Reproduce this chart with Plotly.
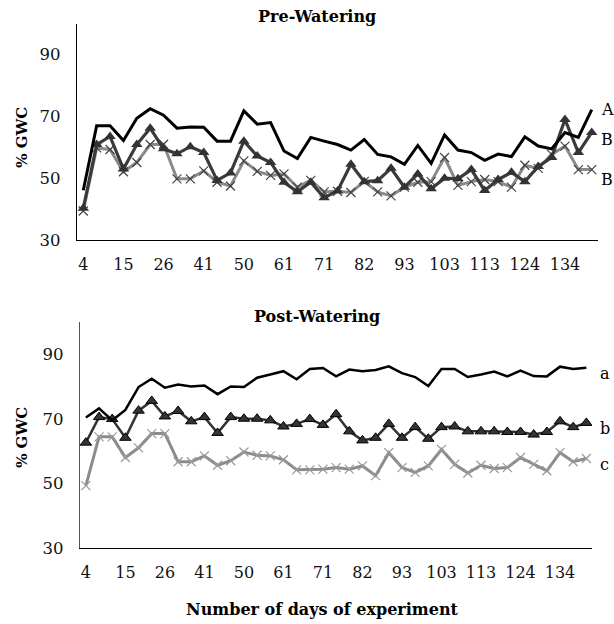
import plotly.graph_objects as go

# ---- data ----
days = [4, 8, 11, 15, 19, 22, 26, 31, 36, 41, 44, 47, 50, 54, 57, 61, 64, 68, 71,
        75, 78, 82, 86, 89, 93, 96, 99, 103, 106, 110, 113, 117, 120, 124, 127,
        131, 134, 138, 141]
categories = [str(d) for d in days]
tick_labels = categories[::3]

pre_A = [46.1, 67.0, 67.0, 62.2, 69.4, 72.5, 70.4, 66.2, 66.6, 66.5, 62.0, 62.0, 71.8,
         67.5, 68.0, 58.8, 56.4, 63.2, 62.0, 60.9, 59.1, 62.5, 57.7, 56.9, 54.5, 60.6,
         54.8, 64.0, 59.1, 58.3, 55.8, 57.8, 57.0, 63.4, 60.4, 59.5, 64.8, 63.2, 72.2]
pre_B1 = [40.3, 60.9, 63.5, 53.0, 60.9, 66.2, 59.5, 57.9, 60.2, 58.3, 49.3, 51.7, 62.0,
          57.2, 55.1, 48.7, 45.6, 48.7, 43.7, 45.9, 54.5, 48.9, 49.2, 53.2, 47.1, 51.4,
          46.6, 50.0, 49.8, 52.8, 46.0, 49.6, 51.9, 48.9, 53.8, 56.7, 69.0, 58.3, 64.8]
pre_B2 = [39.4, 59.8, 59.3, 52.1, 55.1, 60.9, 61.0, 49.8, 49.8, 52.4, 48.7, 47.5, 55.6,
          52.2, 50.9, 51.4, 47.1, 49.3, 45.6, 45.8, 45.4, 49.0, 45.6, 44.3, 47.1, 48.7,
          48.9, 56.7, 47.7, 48.9, 49.6, 48.9, 47.1, 54.2, 53.2, 57.7, 60.4, 52.8, 52.8]

post_a = [70.4, 73.2, 69.5, 72.7, 79.8, 82.4, 79.6, 80.6, 80.0, 80.3, 77.6, 80.0, 79.8,
          82.7, 83.7, 84.7, 82.2, 85.4, 85.7, 83.1, 85.2, 84.7, 85.1, 86.2, 84.1, 82.9,
          80.1, 85.4, 85.4, 82.9, 83.7, 84.6, 83.1, 84.9, 83.2, 83.1, 86.1, 85.4, 85.8]
post_b = [62.6, 70.5, 69.9, 64.1, 72.5, 75.5, 70.7, 72.4, 69.2, 70.5, 65.6, 70.5, 70.0,
          70.0, 69.5, 67.6, 68.4, 69.9, 68.1, 71.4, 66.1, 63.3, 64.1, 68.4, 64.1, 67.4,
          63.8, 67.4, 67.6, 66.1, 66.1, 66.1, 65.9, 65.9, 65.1, 65.9, 69.2, 67.4, 68.7]
post_c = [49.3, 64.4, 64.4, 58.0, 61.0, 65.4, 65.4, 56.7, 56.7, 58.5, 55.6, 57.0, 59.7,
          58.7, 58.5, 57.3, 54.2, 54.2, 54.4, 54.9, 54.4, 55.4, 52.4, 59.5, 54.9, 53.4,
          55.4, 60.5, 55.9, 53.2, 55.6, 54.6, 54.9, 58.0, 55.9, 53.9, 59.5, 56.7, 57.7]

pre_labels = ["A", "B", "B"]
post_labels = ["a", "b", "c"]
y_ticks = [30, 50, 70, 90]

SERIF = "DejaVu Serif"
fig = go.Figure()

def add(x, y, xa, ya, color, width, marker=None):
    kw = dict(x=x, y=y, xaxis=xa, yaxis=ya, line=dict(color=color, width=width),
              showlegend=False, hoverinfo="skip")
    if marker is None:
        kw["mode"] = "lines"
    else:
        kw["mode"] = "lines+markers"
        kw["marker"] = marker
    fig.add_trace(go.Scatter(**kw))

# Pre-watering
add(categories, pre_B2, "x", "y", "#8a8a8a", 3,
    dict(symbol="x-thin", size=9, line=dict(color="#444444", width=1.2)))
add(categories, pre_B1, "x", "y", "#3a3a3a", 3.2,
    dict(symbol="triangle-up", size=10, color="#333333"))
add(categories, pre_A, "x", "y", "#000000", 3)

# Post-watering
add(categories, post_c, "x2", "y2", "#8c8c8c", 3,
    dict(symbol="x-thin", size=9, line=dict(color="#9a9a9a", width=1.2)))
add(categories, post_b, "x2", "y2", "#333333", 2.5,
    dict(symbol="triangle-up", size=10, color="#333333", line=dict(color="#000000", width=1)))
add(categories, post_a, "x2", "y2", "#000000", 2.5)

xcommon = dict(type="category", categoryorder="array", categoryarray=categories,
               tickvals=tick_labels, ticktext=tick_labels, showgrid=False, zeroline=False,
               showline=True, linewidth=1.2, ticks="outside", ticklen=10,
               tickcolor="rgba(0,0,0,0)", tickfont=dict(family=SERIF, size=16, color="#111"))
ycommon = dict(range=[30, 100], tickvals=y_ticks, showgrid=False, zeroline=False,
               showline=True, linewidth=1.2, ticks="outside", ticklen=12,
               tickcolor="rgba(0,0,0,0)", tickfont=dict(family=SERIF, size=16.5, color="#111"))

fig.update_layout(
    width=614, height=624, margin=dict(l=0, r=0, t=0, b=0),
    paper_bgcolor="white", plot_bgcolor="white",
    xaxis=dict(**xcommon, domain=[0.1254, 0.974], anchor="y", range=[-0.47, 38.47],
               linecolor="#000"),
    yaxis=dict(**ycommon, domain=[0.609, 0.9615], anchor="x", linecolor="#000"),
    xaxis2=dict(**xcommon, domain=[0.130, 0.964], anchor="y2", range=[-0.46, 38.42],
                linecolor="#000"),
    yaxis2=dict(**ycommon, domain=[0.1074, 0.476], anchor="x2", linecolor="#555"),
)

ann = []
ann.append(dict(text="<b>Pre-Watering</b>", x=317 / 614, y=1 - 17 / 624))
ann.append(dict(text="<b>Post-Watering</b>", x=317 / 614, y=1 - 322 / 624))
ann.append(dict(text="<b>Number of days of experiment</b>", x=322 / 614, y=1 - 619 / 624))
for a in ann:
    a.update(xref="paper", yref="paper", showarrow=False, xanchor="center", yanchor="middle",
             font=dict(family=SERIF, size=16, color="#000"))
for yc in [140, 445]:
    ann.append(dict(text="<b>% GWC</b>", x=22 / 614, y=1 - yc / 624, xref="paper", yref="paper",
                    textangle=-90, showarrow=False, xanchor="center", yanchor="middle",
                    font=dict(family=SERIF, size=15, color="#000")))
last = len(categories) - 1
for lab, yv, ys in zip(pre_labels, [pre_A[-1], pre_B1[-1], pre_B2[-1]], [0, -7, -10]):
    ann.append(dict(text=lab, x=last, y=yv, xref="x", yref="y", xanchor="left",
                    xshift=7, yshift=ys, showarrow=False,
                    font=dict(family=SERIF, size=16, color="#000")))
for lab, yv in zip(post_labels, [post_a[-1], post_b[-1], post_c[-1]]):
    ann.append(dict(text=lab, x=last, y=yv, xref="x2", yref="y2", xanchor="left",
                    xshift=12, yshift=-6, showarrow=False,
                    font=dict(family=SERIF, size=16, color="#000")))
fig.update_layout(annotations=ann)

fig.write_html("out.html")
